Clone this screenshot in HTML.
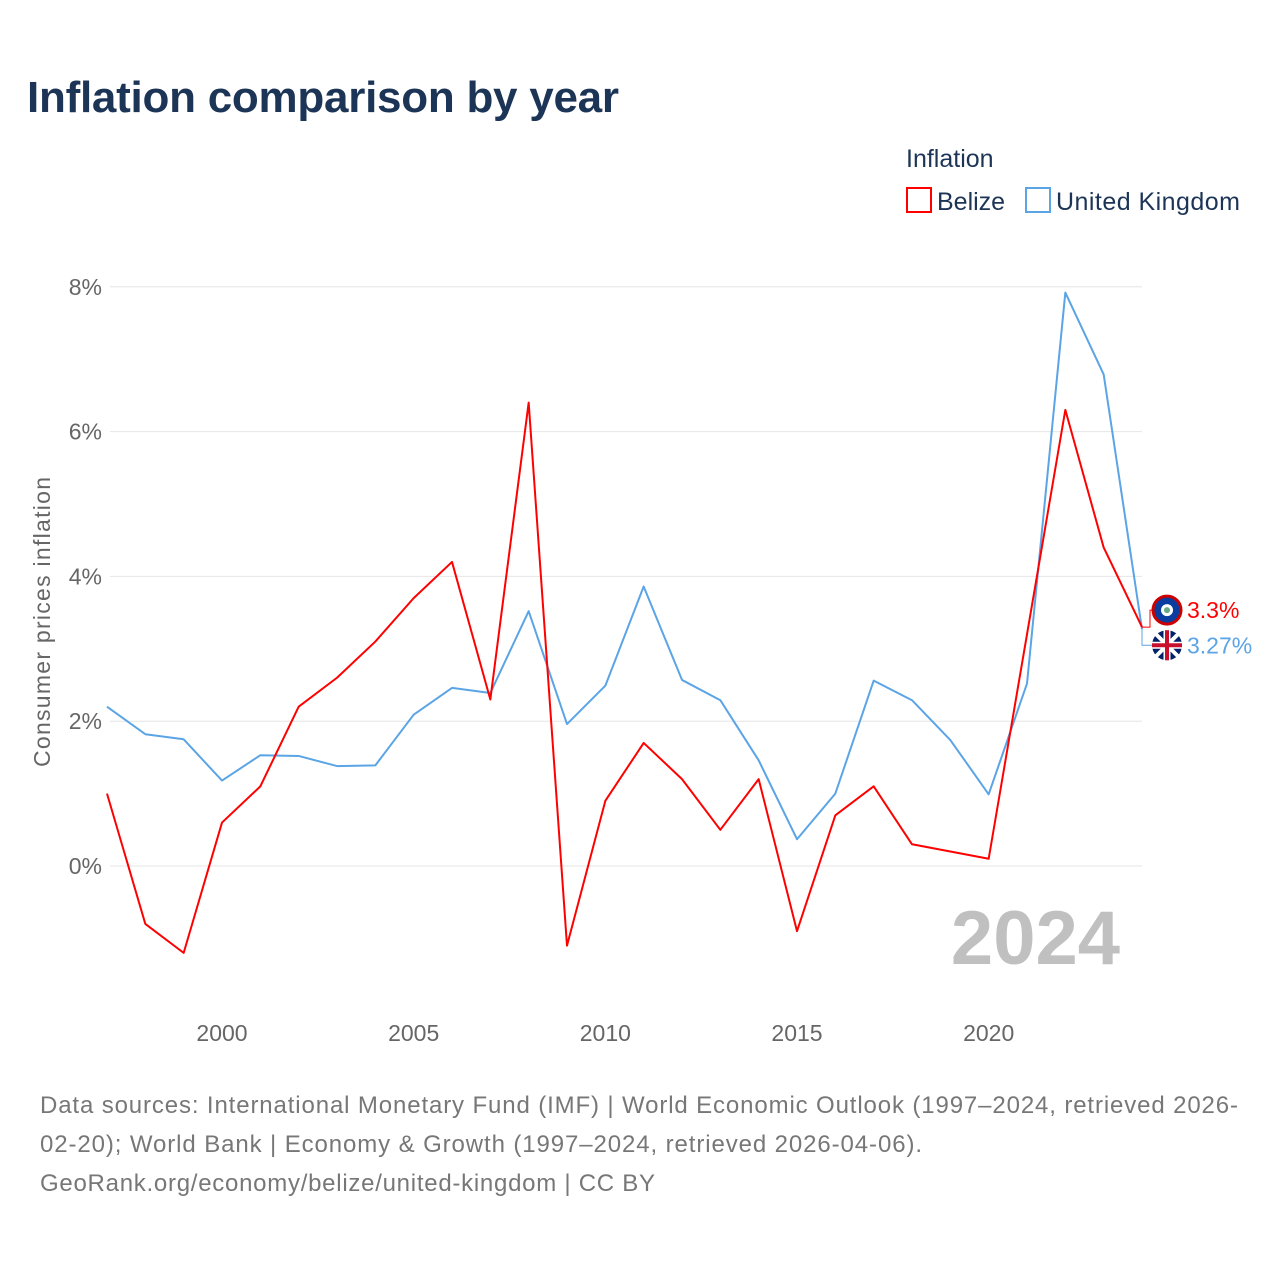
<!DOCTYPE html>
<html><head><meta charset="utf-8"><style>
body{margin:0;background:#fff;font-family:"Liberation Sans",sans-serif;}
</style></head><body>
<svg id="c" width="1280" height="1280" xmlns="http://www.w3.org/2000/svg">
<text x="27" y="112" font-size="44" font-weight="bold" fill="#1c3557" textLength="592">Inflation comparison by year</text>
<text x="906" y="167" font-size="25" fill="#1c3557">Inflation</text>
<g><rect x="907" y="188" width="24" height="24" fill="none" stroke="#f00" stroke-width="2"/><text x="937" y="210" font-size="25" fill="#1c3557">Belize</text></g>
<g><rect x="1026" y="188" width="24" height="24" fill="none" stroke="#5ba4e6" stroke-width="2"/><text x="1056" y="210" font-size="25" fill="#1c3557" textLength="184">United Kingdom</text></g>
<text transform="translate(50,622) rotate(-90)" text-anchor="middle" font-size="23" fill="#666" textLength="290">Consumer prices inflation</text>
<g id="grid"></g><g id="marks"></g>
<text x="1120" y="964" text-anchor="end" font-size="76" font-weight="bold" fill="#c0c0c0">2024</text>
<text x="40" y="1113" font-size="24" fill="#777" textLength="1198">Data sources: International Monetary Fund (IMF) | World Economic Outlook (1997–2024, retrieved 2026-</text>
<text x="40" y="1152" font-size="24" fill="#777" textLength="882">02-20); World Bank | Economy &amp; Growth (1997–2024, retrieved 2026-04-06).</text>
<text x="40" y="1191" font-size="24" fill="#777" textLength="615">GeoRank.org/economy/belize/united-kingdom | CC BY</text>
</svg>
<script>
const years=[1997,1998,1999,2000,2001,2002,2003,2004,2005,2006,2007,2008,2009,2010,2011,2012,2013,2014,2015,2016,2017,2018,2019,2020,2021,2022,2023,2024];
const belize=[1.0,-0.8,-1.2,0.6,1.1,2.2,2.6,3.1,3.7,4.2,2.3,6.4,-1.1,0.9,1.7,1.2,0.5,1.2,-0.9,0.7,1.1,0.3,0.2,0.1,3.2,6.3,4.4,3.3];
const uk=[2.2,1.82,1.75,1.18,1.53,1.52,1.38,1.39,2.09,2.46,2.39,3.52,1.96,2.49,3.86,2.57,2.29,1.46,0.37,1.0,2.56,2.29,1.74,0.99,2.52,7.92,6.79,3.27];
const yTicks=[0,2,4,6,8];
const xTicks=[2000,2005,2010,2015,2020];
const NS="http://www.w3.org/2000/svg";
const xs=y=>107+(y-1997)*(1142-107)/27;
const ys=v=>866-v*72.4;
const grid=document.getElementById('grid'),marks=document.getElementById('marks');
function mk(tag,at,par){const e=document.createElementNS(NS,tag);for(const k in at)e.setAttribute(k,at[k]);par.appendChild(e);return e;}
yTicks.forEach(t=>{
 const l=mk('line',{x1:110,x2:1142,y1:ys(t),y2:ys(t),stroke:'#e6e6e6','stroke-width':1},grid);
 
 
 const tx=mk('text',{x:102,y:ys(t)+8,'text-anchor':'end','font-size':23,fill:'#666'},grid);tx.textContent=t+'%';
 
 
});
xTicks.forEach(t=>{
 const tx=mk('text',{x:xs(t),y:1041,'text-anchor':'middle','font-size':23,fill:'#666'},grid);tx.textContent=t;
 
 
});
function series(vals,color,name){
 const p=mk('polyline',{points:vals.map((v,i)=>xs(years[i])+','+ys(v)).join(' '),fill:'none',stroke:color,'stroke-width':2,'stroke-linejoin':'round'},marks);
 
 
}
series(uk,'#5ba4e6','line-united-kingdom');
series(belize,'#f00','line-belize');
const n=years.length-1,ex=xs(years[n]);
const by=ys(belize[n]),uy=ys(uk[n]);
const lb=Math.min(by,uy)-17,lu=Math.max(by,uy)+16;
mk('path',{d:`M${ex},${by} H1150 V${lb} H1158`,fill:'none',stroke:'#f00','stroke-width':1},marks);
mk('path',{d:`M${ex},${uy} V${lu} H1158`,fill:'none',stroke:'#5ba4e6','stroke-width':1},marks);
const f1=mk('g',{},marks);


mk('circle',{cx:1167,cy:lb,r:14,fill:'#0a3da0',stroke:'#c00','stroke-width':3},f1);
mk('circle',{cx:1167,cy:lb,r:6,fill:'#fff'},f1);
mk('circle',{cx:1167,cy:lb,r:3,fill:'#6a8'},f1);
const f2=mk('g',{},marks);


mk('circle',{cx:1167,cy:lu,r:15,fill:'#012169'},f2);
mk('path',{d:`M1156,${lu-11}L1178,${lu+11}M1178,${lu-11}L1156,${lu+11}`,stroke:'#fff','stroke-width':4},f2);
mk('path',{d:`M1152,${lu}H1182M1167,${lu-15}V${lu+15}`,stroke:'#fff','stroke-width':7},f2);
mk('path',{d:`M1152,${lu}H1182M1167,${lu-15}V${lu+15}`,stroke:'#c8102e','stroke-width':4},f2);
const t1=mk('text',{x:1187,y:lb+8,'font-size':23,fill:'#f00'},marks);t1.textContent=belize[n]+'%';


const t2=mk('text',{x:1187,y:lu+8,'font-size':23,fill:'#5ba4e6'},marks);t2.textContent=uk[n]+'%';


</script>
</body></html>
